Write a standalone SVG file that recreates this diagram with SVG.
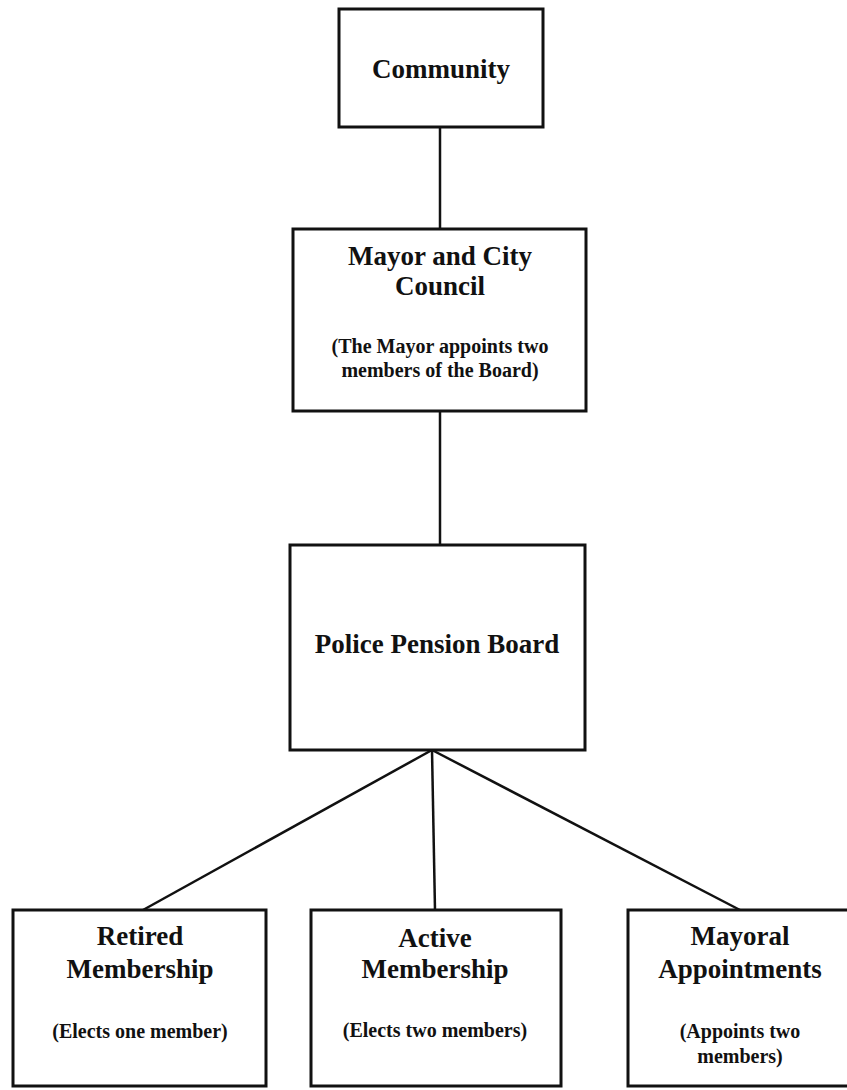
<svg xmlns="http://www.w3.org/2000/svg" width="847" height="1090" viewBox="0 0 847 1090">
<style>
.box{fill:#fff;stroke:#111;stroke-width:3}
.ln{stroke:#111;stroke-width:2.5;fill:none}
text{font-family:"Liberation Serif","Times New Roman",serif;font-weight:bold;fill:#111;text-anchor:middle}
.t{font-size:27px}
.s{font-size:20px}
</style>
<rect width="847" height="1090" fill="#fff"/>
<g id="connectors">
<line class="ln" x1="440" y1="127" x2="440" y2="229"/>
<line class="ln" x1="440" y1="411" x2="440" y2="545"/>
<line class="ln" x1="432" y1="750" x2="143" y2="910"/>
<line class="ln" x1="432" y1="750" x2="435" y2="910"/>
<line class="ln" x1="432" y1="750" x2="740" y2="910"/>
</g>
<g id="community">
<rect class="box" x="339" y="9" width="204" height="118"/>
<text class="t" x="441" y="78">Community</text>
</g>
<g id="mayor-council">
<rect class="box" x="293" y="229" width="293" height="182"/>
<text class="t" x="440" y="265">Mayor and City</text>
<text class="t" x="440" y="295">Council</text>
<text class="s" x="440" y="353">(The Mayor appoints two</text>
<text class="s" x="440" y="377">members of the Board)</text>
</g>
<g id="police-pension-board">
<rect class="box" x="290" y="545" width="295" height="205"/>
<text class="t" x="437" y="653">Police Pension Board</text>
</g>
<g id="retired">
<rect class="box" x="13" y="910" width="253" height="176"/>
<text class="t" x="140" y="945">Retired</text>
<text class="t" x="140" y="978">Membership</text>
<text class="s" x="140" y="1038">(Elects one member)</text>
</g>
<g id="active">
<rect class="box" x="311" y="910" width="250" height="176"/>
<text class="t" x="435" y="947">Active</text>
<text class="t" x="435" y="978">Membership</text>
<text class="s" x="435" y="1037">(Elects two members)</text>
</g>
<g id="mayoral">
<rect class="box" x="628" y="910" width="225" height="176"/>
<text class="t" x="740" y="945">Mayoral</text>
<text class="t" x="740" y="978">Appointments</text>
<text class="s" x="740" y="1038">(Appoints two</text>
<text class="s" x="740" y="1063">members)</text>
</g>
</svg>
